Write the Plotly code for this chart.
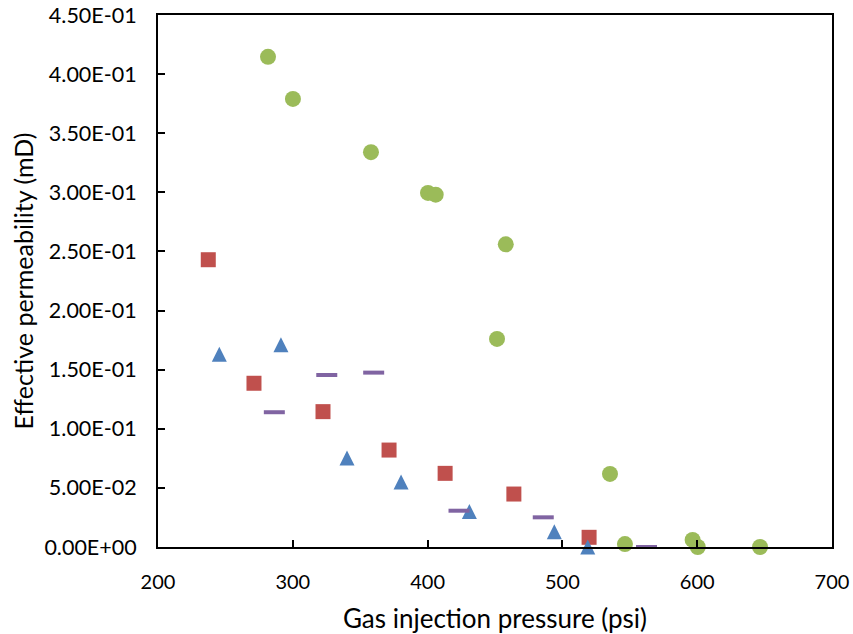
import plotly.graph_objects as go

# Green circles
green_x = [281.6, 300.1, 358, 400.3, 406, 458, 451.5, 535.3, 546.4, 596.6, 600.4, 646.6]
green_y = [0.4146, 0.379, 0.334, 0.2995, 0.298, 0.256, 0.176, 0.0618, 0.0025, 0.006, 0.0, 0.0]
# Red squares
red_x = [237.3, 271.2, 322.4, 371.4, 413, 464, 519.8]
red_y = [0.243, 0.1385, 0.1145, 0.082, 0.0623, 0.0448, 0.0082]
# Blue triangles
blue_x = [245.5, 291.2, 340.2, 380.3, 431, 494, 518.8]
blue_y = [0.163, 0.171, 0.0753, 0.055, 0.030, 0.013, 0.0]
# Purple dashes
purple_x = [286.3, 325.2, 360, 423.3, 485.8, 562.4]
purple_y = [0.114, 0.1455, 0.1475, 0.0307, 0.0251, 0.0]

y_tickvals = [0, 0.05, 0.10, 0.15, 0.20, 0.25, 0.30, 0.35, 0.40, 0.45]
y_ticktext = ["0.00E+00", "5.00E-02", "1.00E-01", "1.50E-01", "2.00E-01",
              "2.50E-01", "3.00E-01", "3.50E-01", "4.00E-01", "4.50E-01"]
x_tickvals = [200, 300, 400, 500, 600, 700]

fig = go.Figure()
fig.add_trace(go.Scatter(x=green_x, y=green_y, mode="markers", cliponaxis=False,
                         marker=dict(symbol="circle", size=16, color="#9BBB59")))
fig.add_trace(go.Scatter(x=red_x, y=red_y, mode="markers", cliponaxis=False,
                         marker=dict(symbol="square", size=15, color="#C0504D")))
# equal-height triangle: arrow-down rotated 180 deg, shifted so it is centred on the point
fig.add_trace(go.Scatter(x=blue_x, y=blue_y, mode="markers", cliponaxis=False,
                         marker=dict(symbol="arrow-down", angle=180, size=15, standoff=7.5,
                                     color="#4F81BD")))
fig.add_trace(go.Scatter(x=purple_x, y=purple_y, mode="markers", cliponaxis=False,
                         marker=dict(symbol="line-ew", size=15, color="#8064A2",
                                     line=dict(color="#8064A2", width=4))))

family = "Lato, Carlito, Calibri, sans-serif"
font = dict(family=family, size=20, color="#000000")

fig.update_layout(
    width=853, height=634,
    margin=dict(l=158, r=21, t=15, b=87),
    paper_bgcolor="white", plot_bgcolor="white",
    showlegend=False,
    font=font,
    xaxis=dict(range=[200, 700], tickvals=x_tickvals, ticks="inside", ticklen=7,
               tickwidth=2, tickcolor="black", showline=True, linecolor="black",
               linewidth=2, mirror=True, showgrid=False, zeroline=False,
               automargin=False, ticklabeloverflow="allow",
               tickfont=dict(size=20),
               title=dict(text="Gas injection pressure (psi)", font=dict(size=26), standoff=18),
               ticklabelstandoff=16),
    yaxis=dict(range=[0, 0.45], tickvals=y_tickvals, ticktext=y_ticktext, ticks="inside",
               ticklen=7, tickwidth=2, tickcolor="black", showline=True, linecolor="black",
               linewidth=2, mirror=True, showgrid=False, zeroline=False,
               automargin=False, ticklabeloverflow="allow",
               tickfont=dict(size=21.5),
               title=dict(text="Effective permeability (mD)", font=dict(size=25), standoff=4),
               ticklabelstandoff=15),
)

fig.write_html("out.html",
               config={"displayModeBar": False},
               post_script="document.body.style.margin='0';document.body.style.overflow='hidden';")
